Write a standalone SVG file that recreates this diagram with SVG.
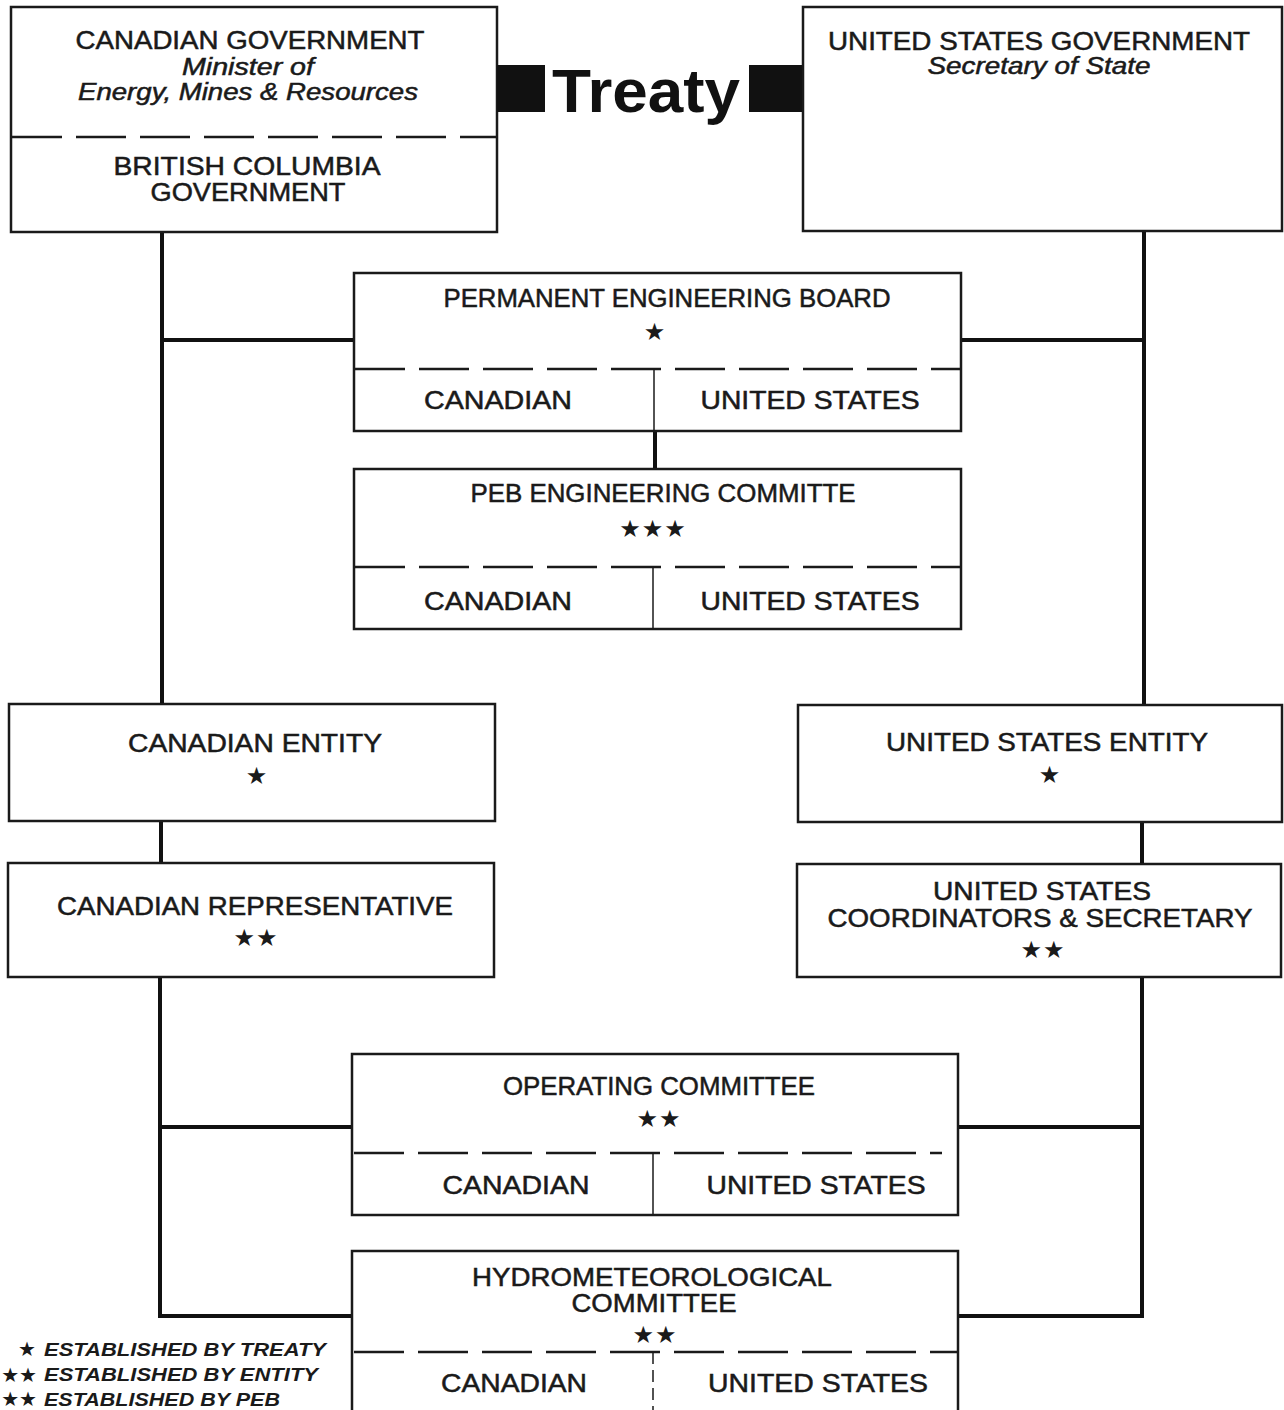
<svg xmlns="http://www.w3.org/2000/svg" width="1284" height="1410" viewBox="0 0 1284 1410">
<style>
.box{fill:#fff;stroke:#1a1a1a;stroke-width:2.5}
.dash{stroke:#1a1a1a;stroke-width:2.5;stroke-dasharray:50 14;fill:none}
.div{stroke:#1a1a1a;stroke-width:1.5;fill:none}
.conn{stroke:#111;stroke-width:4;fill:none}
.t{font-family:"Liberation Sans",Arial,sans-serif;font-size:25px;fill:#1a1a1a;stroke:#1a1a1a;stroke-width:0.5;text-anchor:middle}
.it{font-style:italic;font-size:23px}
.star{font-family:"DejaVu Sans",sans-serif;font-size:24px;fill:#1a1a1a;text-anchor:middle;letter-spacing:1px}
.leg{font-family:"Liberation Sans",Arial,sans-serif;font-size:18px;font-weight:bold;font-style:italic;fill:#1a1a1a}
.legs{font-family:"DejaVu Sans",sans-serif;font-size:20px;fill:#1a1a1a;text-anchor:end}
.treaty{font-family:"Liberation Sans",Arial,sans-serif;font-size:62px;font-weight:bold;fill:#111}
</style>
<rect width="1284" height="1410" fill="#fff"/>
<g id="connectors">
<path class="conn" d="M162 232V704M162 340H354"/>
<path class="conn" d="M1144 231V705M961 340H1144"/>
<path class="conn" d="M655 431V469"/>
<path class="conn" d="M161 821V863"/>
<path class="conn" d="M1142 822V864"/>
<path class="conn" d="M160 977V1318M158 1127H352M158 1316H352"/>
<path class="conn" d="M1142 977V1318M958 1127H1144M958 1316H1144"/>
</g>
<g id="canadian-government">
<rect class="box" x="11" y="7" width="486" height="225"/>
<text class="t" x="250" y="49" textLength="349" lengthAdjust="spacingAndGlyphs">CANADIAN GOVERNMENT</text>
<text class="t it" x="248" y="75" textLength="132" lengthAdjust="spacingAndGlyphs">Minister of</text>
<text class="t it" x="248" y="100" textLength="340" lengthAdjust="spacingAndGlyphs">Energy, Mines &amp; Resources</text>
<line class="dash" x1="12" y1="137" x2="496" y2="137"/>
<text class="t" x="247" y="175" textLength="267" lengthAdjust="spacingAndGlyphs">BRITISH COLUMBIA</text>
<text class="t" x="248" y="201" textLength="195" lengthAdjust="spacingAndGlyphs">GOVERNMENT</text>
</g>
<g id="treaty">
<rect x="497" y="65" width="48" height="47" fill="#111"/>
<text class="treaty" x="552" y="112" textLength="188" lengthAdjust="spacingAndGlyphs">Treaty</text>
<rect x="749" y="65" width="54" height="47" fill="#111"/>
</g>
<g id="us-government">
<rect class="box" x="803" y="7" width="479" height="224"/>
<text class="t" x="1039" y="50" textLength="422" lengthAdjust="spacingAndGlyphs">UNITED STATES GOVERNMENT</text>
<text class="t it" x="1039" y="74" textLength="223" lengthAdjust="spacingAndGlyphs">Secretary of State</text>
</g>
<g id="peb">
<rect class="box" x="354" y="273" width="607" height="158"/>
<text class="t" x="667" y="307" textLength="447" lengthAdjust="spacingAndGlyphs">PERMANENT ENGINEERING BOARD</text>
<text class="star" x="655" y="340">★</text>
<line class="dash" x1="355" y1="369" x2="960" y2="369"/>
<line class="div" x1="654" y1="369" x2="654" y2="431"/>
<text class="t" x="498" y="409" textLength="148" lengthAdjust="spacingAndGlyphs">CANADIAN</text>
<text class="t" x="810" y="409" textLength="219" lengthAdjust="spacingAndGlyphs">UNITED STATES</text>
</g>
<g id="peb-engineering-committee">
<rect class="box" x="354" y="469" width="607" height="160"/>
<text class="t" x="663" y="502" textLength="385" lengthAdjust="spacingAndGlyphs">PEB ENGINEERING COMMITTE</text>
<text class="star" x="653" y="537">★★★</text>
<line class="dash" x1="355" y1="567" x2="960" y2="567"/>
<line class="div" x1="653" y1="567" x2="653" y2="629"/>
<text class="t" x="498" y="610" textLength="148" lengthAdjust="spacingAndGlyphs">CANADIAN</text>
<text class="t" x="810" y="610" textLength="219" lengthAdjust="spacingAndGlyphs">UNITED STATES</text>
</g>
<g id="canadian-entity">
<rect class="box" x="9" y="704" width="486" height="117"/>
<text class="t" x="255" y="752" textLength="254" lengthAdjust="spacingAndGlyphs">CANADIAN ENTITY</text>
<text class="star" x="257" y="784">★</text>
</g>
<g id="canadian-representative">
<rect class="box" x="8" y="863" width="486" height="114"/>
<text class="t" x="255" y="915" textLength="396" lengthAdjust="spacingAndGlyphs">CANADIAN REPRESENTATIVE</text>
<text class="star" x="256" y="946">★★</text>
</g>
<g id="us-entity">
<rect class="box" x="798" y="705" width="484" height="117"/>
<text class="t" x="1047" y="751" textLength="322" lengthAdjust="spacingAndGlyphs">UNITED STATES ENTITY</text>
<text class="star" x="1050" y="783">★</text>
</g>
<g id="us-coordinators">
<rect class="box" x="797" y="864" width="484" height="113"/>
<text class="t" x="1042" y="900" textLength="218" lengthAdjust="spacingAndGlyphs">UNITED STATES</text>
<text class="t" x="1040" y="927" textLength="425" lengthAdjust="spacingAndGlyphs">COORDINATORS &amp; SECRETARY</text>
<text class="star" x="1043" y="958">★★</text>
</g>
<g id="operating-committee">
<rect class="box" x="352" y="1054" width="606" height="161"/>
<text class="t" x="659" y="1095" textLength="312" lengthAdjust="spacingAndGlyphs">OPERATING COMMITTEE</text>
<text class="star" x="659" y="1127">★★</text>
<line class="dash" x1="354" y1="1153" x2="942" y2="1153"/>
<line class="div" x1="653" y1="1153" x2="653" y2="1215"/>
<text class="t" x="516" y="1194" textLength="147" lengthAdjust="spacingAndGlyphs">CANADIAN</text>
<text class="t" x="816" y="1194" textLength="219" lengthAdjust="spacingAndGlyphs">UNITED STATES</text>
</g>
<g id="hydrometeorological-committee">
<rect class="box" x="352" y="1251" width="606" height="175"/>
<text class="t" x="652" y="1286" textLength="360" lengthAdjust="spacingAndGlyphs">HYDROMETEOROLOGICAL</text>
<text class="t" x="654" y="1312" textLength="165" lengthAdjust="spacingAndGlyphs">COMMITTEE</text>
<text class="star" x="655" y="1343">★★</text>
<line class="dash" x1="354" y1="1352" x2="957" y2="1352"/>
<line class="div" x1="653" y1="1352" x2="653" y2="1410" stroke-dasharray="12 6"/>
<text class="t" x="514" y="1392" textLength="146" lengthAdjust="spacingAndGlyphs">CANADIAN</text>
<text class="t" x="818" y="1392" textLength="220" lengthAdjust="spacingAndGlyphs">UNITED STATES</text>
</g>
<g id="legend">
<text class="legs" x="36" y="1356">★</text>
<text class="leg" x="44" y="1356" textLength="282" lengthAdjust="spacingAndGlyphs">ESTABLISHED BY TREATY</text>
<text class="legs" x="37" y="1382">★★</text>
<text class="leg" x="44" y="1381" textLength="274" lengthAdjust="spacingAndGlyphs">ESTABLISHED BY ENTITY</text>
<text class="legs" x="37" y="1406">★★</text>
<text class="leg" x="44" y="1406" textLength="236" lengthAdjust="spacingAndGlyphs">ESTABLISHED BY PEB</text>
</g>
</svg>
